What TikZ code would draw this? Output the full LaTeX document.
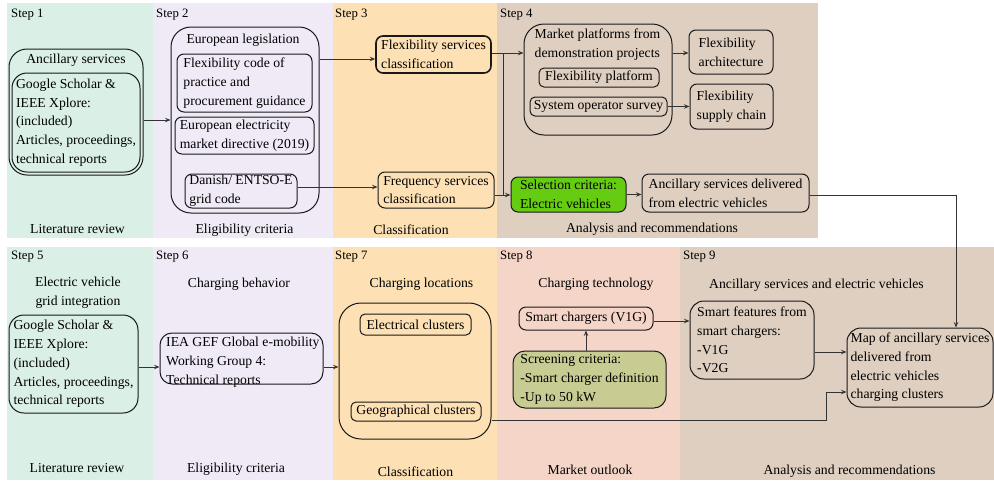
\documentclass[tikz,border=0pt]{standalone}
\usepackage{fontspec}
\setmainfont{Liberation Serif}
\usetikzlibrary{arrows.meta}
\definecolor{litrev}{RGB}{218,239,230}
\definecolor{elig}{RGB}{240,234,246}
\definecolor{classif}{RGB}{253,224,179}
\definecolor{analysis}{RGB}{222,207,192}
\definecolor{outlook}{RGB}{244,213,199}
\definecolor{selgreen}{RGB}{102,204,17}
\definecolor{screenolive}{RGB}{201,204,146}
\begin{document}
\begin{tikzpicture}[x=1pt,y=-1pt,
  font=\fontsize{13.7}{18.7}\selectfont,
  bx/.style={draw=black!90, line width=1pt, rounded corners=7pt, inner sep=0pt, align=left},
  arr/.style={draw=black!80, line width=0.9pt, -{Stealth[length=5.5pt,width=4.5pt,inset=2pt]}},
  ln/.style={draw=black!80, line width=0.9pt},
  steplbl/.style={font=\fontsize{12.8}{15}\selectfont, anchor=west, inner sep=0pt},
]
\useasboundingbox (0,0) rectangle (994,480);

% background panels, upper row
\fill[litrev]   (7,3)   rectangle (153,238);
\fill[elig]     (153,3) rectangle (333,238);
\fill[classif]  (333,3) rectangle (497,238);
\fill[analysis] (497,3) rectangle (818,238);
% background panels, lower row
\fill[litrev]   (7,247)   rectangle (153,480);
\fill[elig]     (153,247) rectangle (333,480);
\fill[classif]  (333,247) rectangle (497,480);
\fill[outlook]  (497,247) rectangle (680,480);
\fill[analysis] (680,247) rectangle (994,480);

% step labels
\node[steplbl] (st1) at (11,15) {Step 1};
\node[steplbl] (st2) at (156,15) {Step 2};
\node[steplbl] (st3) at (335,15) {Step 3};
\node[steplbl] (st4) at (500,15) {Step 4};
\node[steplbl] (st5) at (11,257) {Step 5};
\node[steplbl] (st6) at (156,257) {Step 6};
\node[steplbl] (st7) at (335,257) {Step 7};
\node[steplbl] (st8) at (500,257) {Step 8};
\node[steplbl] (st9) at (683,257) {Step 9};

% ---- Step 1
\node[bx, rounded corners=18pt, minimum width=134pt, minimum height=126pt] (s1out) at (76,112) {};
\node (s1title) at (76,60) {Ancillary services};
\node[bx, rounded corners=15pt, minimum width=128pt, minimum height=99pt] (s1in) at (76,122.5)
  {Google Scholar \&\\IEEE Xplore:\\(included)\\Articles, proceedings,\\technical reports};

% ---- Step 2
\node[bx, rounded corners=20pt, minimum width=148pt, minimum height=186pt] (s2out) at (245,120) {};
\node (s2title) at (243,40) {European legislation};
\node[bx, minimum width=135pt, minimum height=58pt] (s2a) at (244.5,83)
  {Flexibility code of\\practice and\\procurement guidance};
\node[bx, minimum width=139pt, minimum height=37pt] (s2b) at (244.5,135.5)
  {European electricity\\market directive (2019)};
\node[bx, minimum width=112pt, minimum height=34pt] (s2c) at (241,191)
  {Danish/ ENTSO-E\\grid code};

% ---- Step 3
\node[bx, line width=1.6pt, minimum width=115pt, minimum height=37pt] (flex) at (433.5,54.5)
  {Flexibility services\\classification};
\node[bx, minimum width=116pt, minimum height=36pt] (freq) at (436,190)
  {Frequency services\\classification};

% ---- Step 4
\node[bx, rounded corners=20pt, minimum width=148pt, minimum height=111pt] (market) at (598,79.5) {};
\node[align=left, inner sep=0pt] (markett) at (597.5,44.5) {Market platforms from\\demonstration projects};
\node[bx, rounded corners=5pt, minimum width=120pt, minimum height=19pt] (flexplat) at (599,77.5) {Flexibility platform};
\node[bx, rounded corners=5pt, minimum width=137pt, minimum height=19pt] (sysop) at (598.5,106.5) {System operator survey};
\node[bx, minimum width=84pt, minimum height=44pt] (flexarch) at (731,52)
  {Flexibility\\architecture};
\node[bx, minimum width=83pt, minimum height=45pt] (flexsup) at (731.5,106.5)
  {Flexibility\\supply chain};
\node[bx, fill=selgreen, minimum width=115pt, minimum height=35pt] (select) at (568.5,194.5)
  {Selection criteria:\\Electric vehicles};
\node[bx, minimum width=167pt, minimum height=38pt] (ancdel) at (725.5,193)
  {Ancillary services delivered\\from electric vehicles};

% upper row captions
\node (c1) at (77.5,229) {Literature review};
\node (c2) at (244.5,230) {Eligibility criteria};
\node (c3) at (411,230) {Classification};
\node (c4) at (652,229) {Analysis and recommendations};

% ---- Step 5
\node[align=center] (s5title) at (78,293) {Electric vehicle\\grid integration};
\node[bx, rounded corners=15pt, minimum width=129pt, minimum height=98pt] (s5box) at (73.5,364)
  {Google Scholar \&\\IEEE Xplore:\\(included)\\Articles, proceedings,\\technical reports};

% ---- Step 6
\node (s6title) at (239,284) {Charging behavior};
\node[bx, rounded corners=12pt, minimum width=163pt, minimum height=51pt] (iea) at (241.5,358.5) {};
\node[align=left, inner sep=0pt, anchor=west] (ieat) at (166,362)
  {IEA GEF Global e-mobility\\Working Group 4:\\Technical reports};

% ---- Step 7
\node (s7title) at (421.5,284) {Charging locations};
\node[bx, rounded corners=22pt, minimum width=152pt, minimum height=136pt] (s7out) at (415,371) {};
\node[bx, rounded corners=5pt, minimum width=111pt, minimum height=21pt] (elec) at (415.5,324.5) {Electrical clusters};
\node[bx, rounded corners=5pt, minimum width=130pt, minimum height=19pt] (geo) at (416,411.5) {Geographical clusters};

% ---- Step 8
\node (s8title) at (596,284) {Charging technology};
\node[bx, minimum width=134pt, minimum height=23pt] (smartch) at (586,318.5) {Smart chargers (V1G)};
\node[bx, rounded corners=12pt, fill=screenolive, minimum width=153pt, minimum height=57pt] (screen) at (589.5,379.5)
  {Screening criteria:\\-Smart charger definition\\-Up to 50 kW};

% ---- Step 9
\node (s9title) at (816.5,285) {Ancillary services and electric vehicles};
\node[bx, rounded corners=14pt, minimum width=124pt, minimum height=78pt] (smartfeat) at (752,340)
  {Smart features from\\smart chargers:\\-V1G\\-V2G};
\node[bx, rounded corners=14pt, minimum width=146pt, minimum height=79pt] (map) at (920,367.5)
  {Map of ancillary services\\delivered from\\electric vehicles\\charging clusters};

% lower row captions
\node (c5) at (77,468) {Literature review};
\node (c6) at (236,469) {Eligibility criteria};
\node (c7) at (415.5,472) {Classification};
\node (c8) at (590,470) {Market outlook};
\node (c9) at (849.5,471) {Analysis and recommendations};

% routing points
\coordinate (ya) at (0,59);
\coordinate (yb) at (0,187);
\coordinate (j1) at (503,53);
\coordinate (j2) at (503,195);
\coordinate (j3) at (956,195);
\coordinate (yr) at (0,367);
\coordinate (j4) at (826,420);
\coordinate (j5) at (826,392);
\coordinate (y5) at (0,321);
\coordinate (y6) at (0,352);

% connectors
\draw[arr] (s1out.east |- s2out.west) -- (s2out.west);
\draw[arr] (s2out.east |- ya) -- (flex.west |- ya);
\draw[arr] (s2c.east |- yb) -- (freq.west |- yb);
\draw[ln]  (flex.east |- j1) -- (j1) -- (j2);
\draw[arr] (j1) -- (market.west |- j1);
\draw[arr] (freq.east |- j2) -- (select.west |- j2);
\draw[arr] (market.east |- j1) -- (flexarch.west |- j1);
\draw[arr] (sysop.east) -- (flexsup.west |- sysop.east);
\draw[arr] (select.east) -- (ancdel.west |- select.east);
\draw[arr] (ancdel.east |- j3) -- (j3) -- (j3 |- map.north);
\draw[arr] (s5box.east |- yr) -- (iea.west |- yr);
\draw[arr] (iea.east |- yr) -- (s7out.west |- yr);
\draw[arr] (s7out.east |- j4) -- (j4) -- (j5) -- (map.west |- j5);
\draw[arr] (screen.north -| smartch.south) -- (smartch.south);
\draw[arr] (smartch.east |- y5) -- (smartfeat.west |- y5);
\draw[arr] (smartfeat.east |- y6) -- (map.west |- y6);
\end{tikzpicture}
\end{document}
